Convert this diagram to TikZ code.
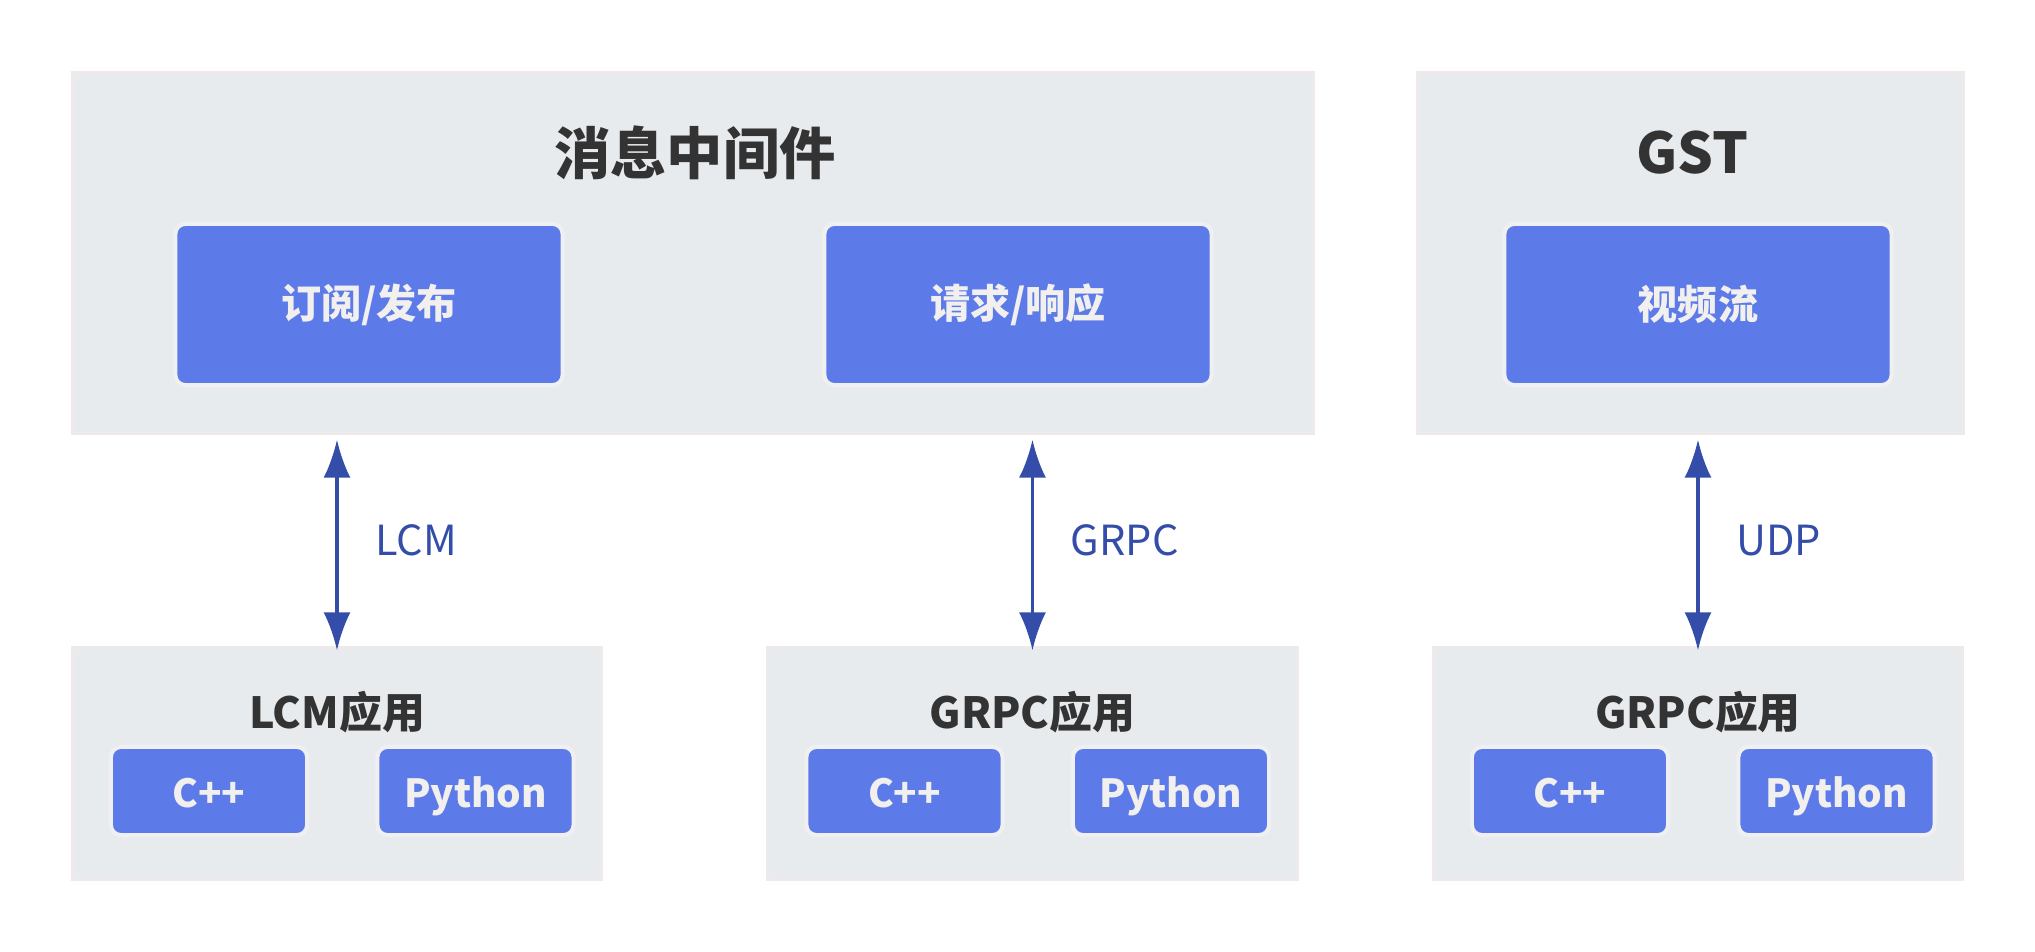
\documentclass[tikz,border=0pt]{standalone}
\usepackage{fontspec}
\setmainfont{Noto Sans CJK SC}
\usetikzlibrary{arrows.meta}

\definecolor{panelfill}{HTML}{E8EBEE}
\definecolor{panelline}{HTML}{EEEAEB}
\definecolor{boxblue}{HTML}{5C7BE9}
\definecolor{boxring}{HTML}{F0F0F2}
\definecolor{linkblue}{HTML}{334DA8}
\definecolor{titlegray}{HTML}{333333}
\definecolor{boxtext}{HTML}{F2EFEF}

\tikzset{
  panel/.style={rectangle, fill=panelfill, draw=panelline, line width=0.03cm, inner sep=0pt},
  bigtitle/.style={text=titlegray, font=\fontsize{16}{19}\selectfont\bfseries},
  apptitle/.style={text=titlegray, font=\fontsize{12.2}{15}\selectfont\bfseries},
  modebox/.style={rectangle, rounded corners=0.1cm, fill=boxblue, draw=boxring, line width=0.04cm,
    minimum width=3.87cm, minimum height=1.61cm, text=boxtext, font=\fontsize{11.4}{14}\selectfont\bfseries},
  langbox/.style={rectangle, rounded corners=0.1cm, fill=boxblue, draw=boxring, line width=0.04cm,
    minimum width=1.96cm, minimum height=0.88cm, text=boxtext, font=\fontsize{11}{14}\selectfont\bfseries,
    text height=0.38cm, text depth=0.06cm},
  link/.style={<->, >={Latex[length=0.38cm, width=0.27cm]}, draw=linkblue, line width=0.035cm,
    shorten <=0.05cm, shorten >=-0.04cm},
  linklabel/.style={right, text=linkblue, font=\fontsize{11.8}{14}\selectfont, xshift=0.25cm}
}

\begin{document}
\begin{tikzpicture}[x=0.01cm, y=-0.01cm]
  \useasboundingbox (0,0) rectangle (2035,952);

  % top panels
  \node[panel, minimum width=12.40cm, minimum height=3.60cm] (mw) at (693,253) {};
  \node[bigtitle] (mwtitle) at (695,153) {消息中间件};
  \node[modebox] (pubsub) at (369,304.5) {订阅/发布};
  \node[modebox] (reqrep) at (1018,304.5) {请求/响应};

  \node[panel, minimum width=5.45cm, minimum height=3.60cm] (gst) at (1690.5,253) {};
  \node[bigtitle] (gsttitle) at (1692,153) {GST};
  \node[modebox] (video) at (1698,304.5) {视频流};

  % application panels
  \foreach \app/\x/\name in {lcmapp/337/LCM应用, grpcapp/1032.5/GRPC应用, udpapp/1698/GRPC应用} {
    \node[panel, minimum width=5.29cm, minimum height=2.31cm] (\app) at (\x,763.5) {};
    \node[apptitle] (\app-title) at (\x,712) {\name};
    \node[langbox] (\app-cpp) at (\x-128,791) {C++};
    \node[langbox] (\app-py) at (\x+138.5,791) {Python};
  }

  \draw[link] (mw.south -| lcmapp.north) -- (lcmapp.north) node[midway, linklabel] {LCM};
  \draw[link] (mw.south -| grpcapp.north) -- (grpcapp.north) node[midway, linklabel] {GRPC};
  \draw[link] (gst.south -| udpapp.north) -- (udpapp.north) node[midway, linklabel] {UDP};
\end{tikzpicture}
\end{document}
